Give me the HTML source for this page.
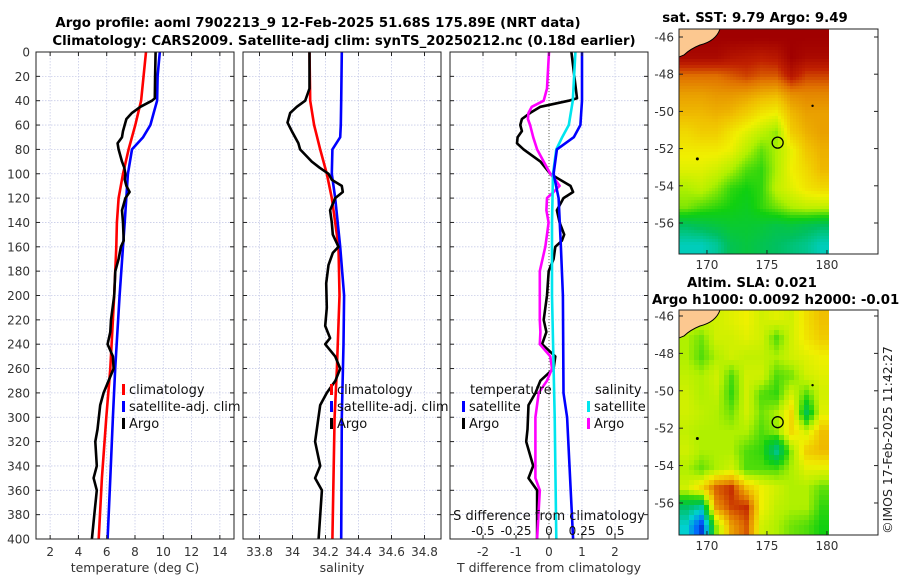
<!DOCTYPE html>
<html><head><meta charset="utf-8"><style>
body{margin:0;background:#fff;}
svg{display:block;font-family:"DejaVu Sans","Liberation Sans",sans-serif;}
</style></head><body>
<svg id="chart" width="900" height="580" viewBox="0 0 900 580">
<defs>
<clipPath id="c1"><rect x="36" y="52" width="198" height="487"/></clipPath>
<clipPath id="c2"><rect x="243" y="52" width="198" height="487"/></clipPath>
<clipPath id="c3"><rect x="450" y="52" width="198" height="487"/></clipPath>
<clipPath id="m1"><rect x="679" y="29" width="150" height="225"/></clipPath>
<clipPath id="m2"><rect x="679" y="310" width="150" height="225"/></clipPath>
</defs>
<g font-weight="bold" font-size="13.3" fill="#000" text-anchor="middle">
<text x="318" y="27">Argo profile: aoml 7902213_9 12-Feb-2025 51.68S 175.89E (NRT data)</text>
<text x="344" y="45">Climatology: CARS2009. Satellite-adj clim: synTS_20250212.nc (0.18d earlier)</text>
<text x="755" y="22">sat. SST: 9.79 Argo: 9.49</text>
<text x="752" y="287">Altim. SLA: 0.021</text>
<text x="652" y="304" text-anchor="start">Argo h1000: 0.0092 h2000: -0.012</text>
</g>
<text transform="translate(892,440) rotate(-90)" font-size="12.5" text-anchor="middle" fill="#222">©IMOS 17-Feb-2025 11:42:27</text>
<g id="axes"></g>
<g id="maps"></g>
</svg>
<script>
const NS="http://www.w3.org/2000/svg";
// ---- data ----
const depthTicks=[0,20,40,60,80,100,120,140,160,180,200,220,240,260,280,300,320,340,360,380,400];
const tempTicks=[2,4,6,8,10,12,14];
const salTicks=[33.8,34,34.2,34.4,34.6,34.8];
const salTickLabels=["33.8","34","34.2","34.4","34.6","34.8"];
const tdTicks=[-2,-1,0,1,2];
const sdTicks=[-0.5,-0.25,0,0.25,0.5];
const sdTickLabels=["-0.5","-0.25","0","0.25","0.5"];

const tClimDepth=[0,40,60,80,100,120,140,160,200,260,300,350,400];
const tClim=[8.78,8.43,8.02,7.55,7.15,6.84,6.72,6.68,6.53,6.25,5.97,5.66,5.43];
const tSatDepth=[0,20,40,50,60,70,80,100,140,160,200,260,300,350,400];
const tSat=[9.75,9.6,9.56,9.32,9.09,8.57,7.79,7.5,7.27,7.15,6.91,6.6,6.44,6.25,6.06];
const tArgoDepth=[0,20,38,40,45,50,55,60,65,70,75,80,90,95,100,105,110,115,120,130,140,155,160,170,180,200,220,230,240,250,260,270,280,290,310,320,340,350,360,380,400];
const tArgo=[9.46,9.42,9.4,9.2,8.38,7.79,7.39,7.27,7.15,7.08,6.77,6.84,7.08,7.24,7.32,7.28,7.39,7.62,7.32,7.08,7.15,7.2,7.0,6.84,6.61,6.53,6.3,6.25,6.06,6.44,6.49,6.13,5.78,5.54,5.35,5.19,5.3,5.07,5.3,5.12,4.95];

const sClimDepth=[0,40,60,80,100,120,140,160,200,260,300,400];
const sClim=[34.103,34.107,34.131,34.168,34.208,34.238,34.259,34.279,34.285,34.269,34.255,34.242];
const sSatDepth=[0,40,60,70,80,100,120,160,200,240,300,400];
const sSat=[34.299,34.295,34.293,34.289,34.242,34.238,34.259,34.289,34.313,34.309,34.299,34.295];
const sArgoDepth=[0,30,40,45,50,58,65,75,80,90,95,100,105,110,115,120,130,140,150,160,165,175,190,210,225,235,240,250,260,270,280,290,320,340,350,360,400];
const sArgo=[34.103,34.103,34.077,34.026,33.986,33.97,33.996,34.036,34.046,34.117,34.164,34.218,34.238,34.299,34.305,34.259,34.228,34.238,34.244,34.279,34.244,34.218,34.204,34.208,34.198,34.228,34.198,34.259,34.289,34.26,34.208,34.168,34.137,34.168,34.137,34.178,34.158];

const tdSatDepth=[0,40,60,70,80,100,120,160,200,280,300,400];
const tdSat=[1.0,1.0,0.95,0.75,0.24,0.14,0.29,0.36,0.42,0.44,0.55,0.73];
const sdSatDepth=[0,40,60,70,80,100,140,200,300,400];
const sdSat=[0.2,0.18,0.15,0.1,0.055,0.03,0.023,0.023,0.043,0.055];
const tdArgoDepth=[0,38,40,45,50,55,60,65,70,75,80,90,100,105,110,115,120,130,140,150,155,160,170,180,200,220,230,240,250,260,270,280,290,310,320,340,350,360,400];
const tdArgo=[0.68,0.85,0.6,-0.26,-0.57,-0.82,-0.87,-0.82,-0.95,-0.97,-0.77,-0.26,0.04,0.34,0.65,0.73,0.44,0.24,0.32,0.46,0.39,0.19,0.14,-0.01,-0.06,-0.16,-0.08,-0.21,0.19,0.14,-0.26,-0.41,-0.62,-0.65,-0.69,-0.48,-0.62,-0.36,-0.36];
const sdArgoDepth=[0,30,40,45,50,55,60,70,80,90,100,105,110,115,120,130,140,150,160,180,200,220,230,240,250,260,270,280,300,340,350,360,400];
const sdArgo=[0,-0.015,-0.04,-0.13,-0.155,-0.16,-0.143,-0.12,-0.09,-0.04,0.01,0.048,0.08,0.035,-0.015,-0.02,-0.003,-0.015,-0.028,-0.07,-0.07,-0.07,-0.065,-0.07,0.01,0.023,-0.015,-0.078,-0.103,-0.103,-0.103,-0.07,-0.09];

// maps (colormap values 0..1), rows from north (-46) to south (-57)
const sstGrid=[
[1,1,1,1,1,1,1,1,1,1],
[0.98,0.98,0.98,0.96,0.95,0.94,0.95,1,0.98,0.98],
[0.86,0.86,0.86,0.88,0.9,0.88,0.88,0.95,0.9,0.9],
[0.8,0.8,0.81,0.81,0.8,0.78,0.77,0.82,0.83,0.83],
[0.77,0.77,0.78,0.77,0.74,0.7,0.68,0.77,0.8,0.8],
[0.72,0.74,0.74,0.7,0.66,0.62,0.58,0.74,0.78,0.8],
[0.69,0.69,0.69,0.67,0.61,0.55,0.6,0.67,0.75,0.78],
[0.66,0.66,0.64,0.6,0.54,0.52,0.6,0.68,0.72,0.77],
[0.6,0.62,0.58,0.52,0.5,0.52,0.62,0.66,0.7,0.72],
[0.57,0.54,0.52,0.5,0.48,0.52,0.56,0.6,0.62,0.62],
[0.4,0.42,0.44,0.46,0.46,0.45,0.43,0.44,0.42,0.4],
[0.32,0.32,0.35,0.42,0.44,0.42,0.4,0.38,0.36,0.32]];
const slaGrid=[
[0.62,0.64,0.64,0.66,0.68,0.64,0.66,0.64,0.71,0.76],
[0.6,0.56,0.64,0.64,0.66,0.64,0.54,0.64,0.7,0.74],
[0.6,0.54,0.6,0.64,0.62,0.62,0.6,0.64,0.66,0.68],
[0.62,0.6,0.64,0.54,0.64,0.64,0.54,0.56,0.64,0.66],
[0.64,0.6,0.62,0.52,0.64,0.54,0.52,0.64,0.54,0.64],
[0.64,0.62,0.6,0.56,0.64,0.56,0.6,0.72,0.42,0.66],
[0.62,0.6,0.6,0.6,0.6,0.54,0.58,0.72,0.64,0.76],
[0.64,0.6,0.6,0.6,0.54,0.52,0.35,0.58,0.74,0.77],
[0.6,0.55,0.6,0.64,0.54,0.54,0.54,0.6,0.66,0.66],
[0.64,0.72,0.88,0.92,0.76,0.68,0.64,0.6,0.6,0.55],
[0.4,0.35,0.82,0.9,0.92,0.68,0.62,0.6,0.6,0.52],
[0.3,0.1,0.58,0.8,0.88,0.64,0.6,0.56,0.54,0.5]];
const lonTicks=[170,175,180];
const latTicks=[-46,-48,-50,-52,-54,-56];
const argoLon=[175.89], argoLat=[-51.68];

// ---- helpers ----
function el(tag,attrs,parent){const e=document.createElementNS(NS,tag);for(const k in attrs)e.setAttribute(k,attrs[k]);parent.appendChild(e);return e;}
const axes=document.getElementById('axes');
const Y=d=>52+d*(487/400);
function panel(x0,xmin,xmax,name){
  const X=v=>x0+(v-xmin)/(xmax-xmin)*198;
  const g=el('g',{},axes);
  
  
  return {X,g,x0};
}
function grid(p,xticks){
  depthTicks.forEach(d=>{el('line',{x1:p.x0,y1:Y(d),x2:p.x0+198,y2:Y(d),stroke:'#c8cce8','stroke-dasharray':'1.5,1.5','stroke-width':0.8},p.g);});
  xticks.forEach(t=>{const x=p.X(t);el('line',{x1:x,y1:52,x2:x,y2:539,stroke:'#c8cce8','stroke-dasharray':'1.5,1.5','stroke-width':0.8},p.g);});
}
function frame(p,xticks,labels,xlabel){
  const g=p.g;
  el('rect',{x:p.x0,y:52,width:198,height:487,fill:'none',stroke:'#222','stroke-width':1},g);
  depthTicks.forEach(d=>{el('line',{x1:p.x0,y1:Y(d),x2:p.x0+4,y2:Y(d),stroke:'#222'},g);el('line',{x1:p.x0+198,y1:Y(d),x2:p.x0+194,y2:Y(d),stroke:'#222'},g);});
  xticks.forEach((t,i)=>{const x=p.X(t);el('line',{x1:x,y1:539,x2:x,y2:535,stroke:'#222'},g);el('line',{x1:x,y1:52,x2:x,y2:56,stroke:'#222'},g);
    const tx=el('text',{x:x,y:556,'font-size':12,'text-anchor':'middle',fill:'#333'},g);tx.textContent=labels[i];
    
    });
  const xl=el('text',{x:p.x0+99,y:572,'font-size':12.5,'text-anchor':'middle',fill:'#333'},g);xl.textContent=xlabel;
  
  
}
function line(p,vals,depths,color,clip,name,scale){
  let d='';vals.forEach((v,i)=>{d+=(i?'L':'M')+p.X(v*(scale||1)).toFixed(1)+','+Y(depths[i]).toFixed(1);});
  const pth=el('path',{d:d,fill:'none',stroke:color,'stroke-width':2.6,'stroke-linejoin':'round','clip-path':'url(#'+clip+')'},p.g);
  
  
}
function legend(g,x,y,color,label){
  el('rect',{x:x,y:y-9,width:3,height:11,fill:color},g);
  const t=el('text',{x:x+7,y:y+1,'font-size':13,fill:'#111'},g);t.textContent=label;
  
  
}

// panel 1
const p1=panel(36,1,15,'temperature-panel');
grid(p1,tempTicks);
line(p1,tClim,tClimDepth,'#ff0000','c1','temp-climatology-line');
line(p1,tSat,tSatDepth,'#0000ff','c1','temp-satellite-line');
line(p1,tArgo,tArgoDepth,'#000','c1','temp-argo-line');
frame(p1,tempTicks,tempTicks.map(String),'temperature (deg C)');
depthTicks.forEach(d=>{const t=el('text',{x:30,y:Y(d)+4.5,'font-size':12,'text-anchor':'end',fill:'#333'},p1.g);t.textContent=d;
  
  });
legend(p1.g,122,393,'#ff0000','climatology');
legend(p1.g,122,410,'#0000ff','satellite-adj. clim');
legend(p1.g,122,427,'#000','Argo');

// panel 2
const p2=panel(243,33.7,34.9,'salinity-panel');
grid(p2,salTicks);
line(p2,sClim,sClimDepth,'#ff0000','c2','sal-climatology-line');
line(p2,sSat,sSatDepth,'#0000ff','c2','sal-satellite-line');
line(p2,sArgo,sArgoDepth,'#000','c2','sal-argo-line');
frame(p2,salTicks,salTickLabels,'salinity');
legend(p2.g,330,393,'#ff0000','climatology');
legend(p2.g,330,410,'#0000ff','satellite-adj. clim');
legend(p2.g,330,427,'#000','Argo');

// panel 3
const p3=panel(450,-3,3,'difference-panel');
grid(p3,tdTicks);
el('line',{x1:p3.X(0),y1:52,x2:p3.X(0),y2:539,stroke:'#665',"stroke-dasharray":'1,2','stroke-width':1},p3.g);
line(p3,tdArgo,tdArgoDepth,'#000','c3','tdiff-argo-line');
line(p3,sdArgo,sdArgoDepth,'#ff00ff','c3','sdiff-argo-line',4);
line(p3,sdSat,sdSatDepth,'#00e5ee','c3','sdiff-satellite-line',4);
line(p3,tdSat,tdSatDepth,'#0000ff','c3','tdiff-satellite-line');
frame(p3,tdTicks,tdTicks.map(String),'T difference from climatology');
{const t=el('text',{x:549,y:520,'font-size':13,'text-anchor':'middle',fill:'#111'},p3.g);t.textContent='S difference from climatology';
 
 
 sdTicks.forEach((s,i)=>{const tx=el('text',{x:p3.X(s*4),y:535,'font-size':12,'text-anchor':'middle',fill:'#111'},p3.g);tx.textContent=sdTickLabels[i];
  
  });}
{const t=el('text',{x:470,y:394,'font-size':13,fill:'#111'},p3.g);t.textContent='temperature';
 
 
 const t2=el('text',{x:595,y:394,'font-size':13,fill:'#111'},p3.g);t2.textContent='salinity';
 
 }
legend(p3.g,462,410,'#0000ff','satellite');
legend(p3.g,462,427,'#000','Argo');
legend(p3.g,587,410,'#00e5ee','satellite');
legend(p3.g,587,427,'#ff00ff','Argo');

// ---- maps ----
const cmapStops=[0,0.15,0.3,0.4,0.5,0.6,0.68,0.76,0.86,0.93,1];
const cmapCols=[[0,0,144],[0,96,255],[0,208,208],[0,192,96],[16,208,16],[176,240,0],[240,240,0],[240,192,0],[224,112,0],[192,32,0],[160,0,0]];
function cmap(v){
  v=Math.max(0,Math.min(1,v));
  let i=0;while(i<cmapStops.length-2&&v>cmapStops[i+1])i++;
  const f=(v-cmapStops[i])/(cmapStops[i+1]-cmapStops[i]);
  const a=cmapCols[i],b=cmapCols[i+1];
  return 'rgb('+a.map((c,k)=>Math.round(c+(b[k]-c)*f)).join(',')+')';
}
function sample(gridV,fx,fy){
  const nr=gridV.length,nc=gridV[0].length;
  let x=Math.max(0,Math.min(nc-1,fx-0.5)),y=Math.max(0,Math.min(nr-1,fy-0.5));
  const x0=Math.floor(x),y0=Math.floor(y),x1=Math.min(nc-1,x0+1),y1=Math.min(nr-1,y0+1);
  const tx=x-x0,ty=y-y0;
  return gridV[y0][x0]*(1-tx)*(1-ty)+gridV[y0][x1]*tx*(1-ty)+gridV[y1][x0]*(1-tx)*ty+gridV[y1][x1]*tx*ty;
}
const maps=document.getElementById('maps');
function drawMap(top,gridV,clip,name,latTop,pxPerLat,step){
  const g=el('g',{},maps);
  
  
  const LX=lon=>679+(lon-167.67)*12;
  const LY=lat=>top+(latTop-lat)*pxPerLat;
  const img=el('g',{'clip-path':'url(#'+clip+')'},g);
  const nr=gridV.length,nc=gridV[0].length;
  const cw=150/nc,ch=225/nr;
  for(let py=0;py<225;py+=step){for(let px=0;px<150;px+=step){
    const v=sample(gridV,(px+step/2)/cw,(py+step/2)/ch);
    const r=el('rect',{x:679+px,y:top+py,width:step+0.5,height:step+0.5,fill:cmap(v)},img);
    
    
  }}
  el('path',{d:`M679,${top} L720,${top} Q716,${top+12} 700,${top+16} Q690,${top+20} 684,${top+26} L679,${top+28} Z`,fill:'#fcc890',stroke:'#000','stroke-width':1},img);
  el('circle',{cx:LX(169.2),cy:LY(-52.55),r:1.5,fill:'#000'},g);
  el('circle',{cx:LX(178.8),cy:LY(-49.7),r:1.2,fill:'#000'},g);
  el('rect',{x:679,y:top,width:199,height:225,fill:'none',stroke:'#222'},g);
  lonTicks.forEach(l=>{const x=LX(l);el('line',{x1:x,y1:top+225,x2:x,y2:top+221,stroke:'#222'},g);
    const t=el('text',{x:x,y:top+240,'font-size':12,'text-anchor':'middle',fill:'#333'},g);t.textContent=l;
    
    });
  latTicks.forEach(l=>{const y=LY(l);el('line',{x1:679,y1:y,x2:683,y2:y,stroke:'#222'},g);el('line',{x1:878,y1:y,x2:874,y2:y,stroke:'#222'},g);
    const t=el('text',{x:674,y:y+4.5,'font-size':12,'text-anchor':'end',fill:'#333'},g);t.textContent=l;
    
    });
  const c=el('circle',{cx:LX(argoLon[0]),cy:LY(argoLat[0]),r:5.5,fill:'none',stroke:'#000','stroke-width':1.3},g);
  
  
}
drawMap(29,sstGrid,'m1','sst-map',-45.57,18.6,3);
drawMap(310,slaGrid,'m2','sla-map',-45.68,18.7,5);
</script>
</body></html>
